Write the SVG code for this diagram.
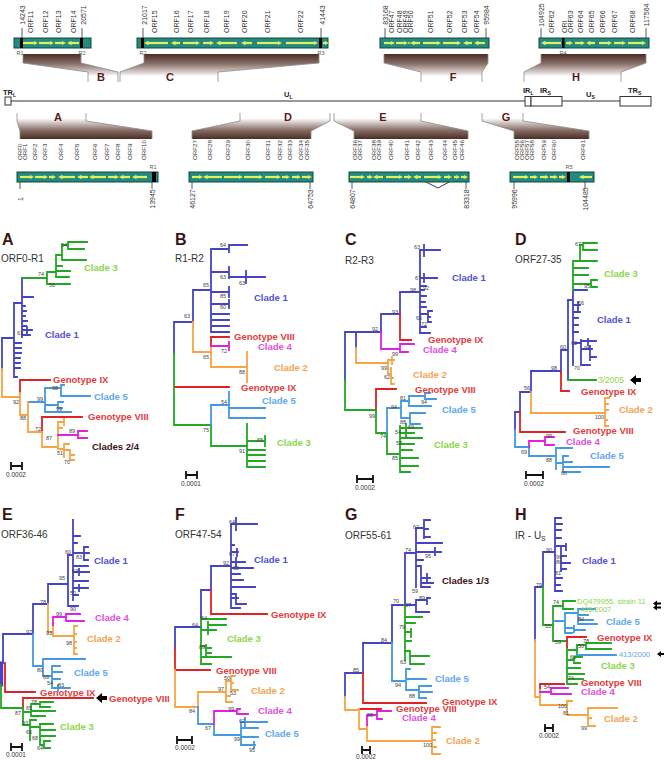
<svg xmlns="http://www.w3.org/2000/svg" width="664" height="760" viewBox="0 0 664 760">
<defs>
<style>
text{font-family:"Liberation Sans",Arial,Helvetica,sans-serif}
.orf{font-size:7px;fill:#333}
.orl{font-size:6.2px;fill:#333}
.num{font-size:7px;fill:#333;text-anchor:middle}
.rl{font-size:5.5px;fill:#555;text-anchor:middle}
.reg{font-size:11px;font-weight:bold;fill:#5c1a1a;text-anchor:middle}
.gl{font-size:7.5px;font-weight:bold;fill:#222}
.gs{font-size:5px}
.pl{font-size:16px;font-weight:bold;fill:#3b1410}
.st{font-size:10px;fill:#333}
.bs{font-size:5.5px;fill:#444}
.cl{font-size:9.5px;font-weight:bold}
.sm{font-size:8.5px}
.xs{font-size:7.5px}
.sc{font-size:6.5px;fill:#333;text-anchor:middle}
.c1{fill:#5252d2}.c2{fill:#f2a452}.c3{fill:#8cd64c}.c4{fill:#e050e0}.c5{fill:#62a8ee}.gi{fill:#e23c3c}.dk{fill:#3b1410}
.tr path{fill:none;stroke-width:1.8;stroke-linecap:square}
.b{stroke:#4444c4}.g{stroke:#22a822}.r{stroke:#e02222}.o{stroke:#f5a545}.lb{stroke:#4499e2}.m{stroke:#e022e0}
.bar{fill:#238a80;stroke:#0c4843;stroke-width:1}
.ya path{fill:none;stroke:#e6ee5c;stroke-width:2.2}
.mk{fill:#000}
.tk{stroke:#333;stroke-width:0.8}
.edge{fill:none;stroke:#8a8a8a;stroke-width:0.8}
.sb{fill:none;stroke:#111;stroke-width:1.3}
.tr path.arw,.arw{fill:#000;stroke:none}
</style>
<marker id="ah" viewBox="0 0 6 6" refX="2" refY="3" markerWidth="4.5" markerHeight="5" markerUnits="userSpaceOnUse" orient="auto">
<path d="M0,0L6,3L0,6z" fill="#e6ee5c"/>
</marker>
<linearGradient id="gu" x1="0" y1="0" x2="0" y2="1">
<stop offset="0" stop-color="#4a2d24"/><stop offset="0.35" stop-color="#8a7068"/><stop offset="0.8" stop-color="#ffffff"/>
</linearGradient>
<linearGradient id="gd" x1="0" y1="0" x2="0" y2="1">
<stop offset="0.2" stop-color="#ffffff"/><stop offset="0.65" stop-color="#8a7068"/><stop offset="1" stop-color="#4a2d24"/>
</linearGradient>
</defs>
<rect width="664" height="760" fill="#fff"/>

<g id="genome-line">
<line x1="11" y1="101" x2="525" y2="101" stroke="#333" stroke-width="1.2"/>
<line x1="562" y1="101" x2="620" y2="101" stroke="#333" stroke-width="1.2"/>
<rect x="5" y="97" width="6" height="8" fill="#fff" stroke="#333" stroke-width="1"/>
<rect x="525" y="96.5" width="6" height="9.5" fill="#fff" stroke="#333" stroke-width="1"/>
<rect x="531" y="96.5" width="31" height="9.5" fill="#fff" stroke="#333" stroke-width="1"/>
<rect x="620" y="96.5" width="31" height="9.5" fill="#fff" stroke="#333" stroke-width="1"/>
<text class="gl" x="3" y="95">TR<tspan class="gs" dy="1.5">L</tspan></text>
<text class="gl" x="284" y="97">U<tspan class="gs" dy="1.5">L</tspan></text>
<text class="gl" x="523" y="93">IR<tspan class="gs" dy="1.5">L</tspan></text>
<text class="gl" x="540" y="93">IR<tspan class="gs" dy="1.5">S</tspan></text>
<text class="gl" x="586" y="97">U<tspan class="gs" dy="1.5">S</tspan></text>
<text class="gl" x="628" y="93">TR<tspan class="gs" dy="1.5">S</tspan></text>
</g>

<g id="connectors">
<polygon points="23,54 81,54 81,63 118,72 118,82 88,82 88,72 23,63" fill="url(#gu)"/>
<polyline class="edge" points="23,54 23,63 88,72 88,82"/><polyline class="edge" points="81,54 81,63 118,72 118,82"/>
<polygon points="144,54 319,54 319,63 218,72 218,82 120,82 120,72 144,63" fill="url(#gu)"/>
<polyline class="edge" points="144,54 144,63 120,72 120,82"/><polyline class="edge" points="319,54 319,63 218,72 218,82"/>
<polygon points="384,54 488,54 488,63 482,72 482,82 421,82 421,72 384,63" fill="url(#gu)"/>
<polyline class="edge" points="384,54 384,63 421,72 421,82"/><polyline class="edge" points="488,54 488,63 482,72 482,82"/>
<polygon points="541,54 646,54 646,63 621,72 621,82 524,82 524,72 541,63" fill="url(#gu)"/>
<polyline class="edge" points="541,54 541,63 524,72 524,82"/><polyline class="edge" points="646,54 646,63 621,72 621,82"/>
<polygon points="17,113 86,113 86,121 152,131 152,139 20,139 20,131 17,121" fill="url(#gd)"/>
<polyline class="edge" points="17,113 17,121 20,131 20,139"/><polyline class="edge" points="86,113 86,121 152,131 152,139"/>
<polygon points="240,113 330,113 330,121 311,131 311,139 192,139 192,131 240,121" fill="url(#gd)"/>
<polyline class="edge" points="240,113 240,121 192,131 192,139"/><polyline class="edge" points="330,113 330,121 311,131 311,139"/>
<polygon points="334,113 421,113 421,121 468,131 468,139 354,139 354,131 334,121" fill="url(#gd)"/>
<polyline class="edge" points="334,113 334,121 354,131 354,139"/><polyline class="edge" points="421,113 421,121 468,131 468,139"/>
<polygon points="482,113 523,113 523,121 589,131 589,139 514,139 514,131 482,121" fill="url(#gd)"/>
<polyline class="edge" points="482,113 482,121 514,131 514,139"/><polyline class="edge" points="523,113 523,121 589,131 589,139"/>
<text class="reg" x="101" y="81">B</text><text class="reg" x="170" y="81">C</text>
<text class="reg" x="453" y="81">F</text><text class="reg" x="576" y="81">H</text>
<text class="reg" x="58" y="121">A</text><text class="reg" x="288" y="121">D</text>
<text class="reg" x="383" y="121">E</text><text class="reg" x="506" y="121">G</text>
<path d="M424,181L438,188L451,181" fill="none" stroke="#222" stroke-width="0.9"/>
</g>

<g id="region-B">
<rect class="bar" x="14" y="38" width="77" height="10"/>
<g class="ya"><path d="M23,43H35" marker-end="url(#ah)"/><path d="M39,43H51" marker-end="url(#ah)"/><path d="M55,43H63" marker-end="url(#ah)"/><path d="M79,43H70" marker-end="url(#ah)"/></g>
<rect class="mk" x="20" y="38" width="3" height="10"/><rect class="mk" x="80" y="38" width="3" height="10"/>
<line class="tk" x1="22" y1="28" x2="22" y2="38"/><line class="tk" x1="82" y1="28" x2="82" y2="38"/>
<text class="num" transform="translate(24.5,15) rotate(-90)">14243</text>
<text class="num" transform="translate(85.5,15) rotate(-90)">20571</text>
<text class="orf" transform="translate(32.7,33) rotate(-90)">ORF11</text>
<text class="orf" transform="translate(47.7,33) rotate(-90)">ORF12</text>
<text class="orf" transform="translate(60.7,33) rotate(-90)">ORF13</text>
<text class="orf" transform="translate(75.7,33) rotate(-90)">ORF14</text>
<text class="rl" x="20" y="55">R1</text><text class="rl" x="82" y="55">R2</text>
</g>

<g id="region-C">
<rect class="bar" x="137" y="38" width="191" height="10"/>
<g class="ya"><path d="M168,43H147" marker-end="url(#ah)"/><path d="M180,43H174" marker-end="url(#ah)"/><path d="M183,43H197" marker-end="url(#ah)"/><path d="M203,43H211" marker-end="url(#ah)"/><path d="M237,43H219" marker-end="url(#ah)"/><path d="M252,43H244" marker-end="url(#ah)"/><path d="M257,43H279" marker-end="url(#ah)"/><path d="M286,43H315" marker-end="url(#ah)"/><path d="M323,43H326" marker-end="url(#ah)"/></g>
<rect class="mk" x="141" y="38" width="3" height="10"/><rect class="mk" x="319" y="38" width="3" height="10"/>
<line class="tk" x1="143" y1="28" x2="143" y2="38"/><line class="tk" x1="321" y1="28" x2="321" y2="38"/>
<text class="num" transform="translate(146.5,15) rotate(-90)">21017</text>
<text class="num" transform="translate(324.5,15) rotate(-90)">41443</text>
<text class="orf" transform="translate(156.7,33) rotate(-90)">ORF15</text>
<text class="orf" transform="translate(178.7,33) rotate(-90)">ORF16</text>
<text class="orf" transform="translate(192.7,33) rotate(-90)">ORF17</text>
<text class="orf" transform="translate(208.7,33) rotate(-90)">ORF18</text>
<text class="orf" transform="translate(228.7,33) rotate(-90)">ORF19</text>
<text class="orf" transform="translate(246.7,33) rotate(-90)">ORF20</text>
<text class="orf" transform="translate(269.7,33) rotate(-90)">ORF21</text>
<text class="orf" transform="translate(302.7,33) rotate(-90)">ORF22</text>
<text class="rl" x="143" y="55">R2</text><text class="rl" x="321" y="55">R3</text>
</g>

<g id="region-F">
<rect class="bar" x="380" y="38" width="109" height="10"/>
<g class="ya"><path d="M384,43H392" marker-end="url(#ah)"/><path d="M396,43H405" marker-end="url(#ah)"/><path d="M420,43H413" marker-end="url(#ah)"/><path d="M423,43H438" marker-end="url(#ah)"/><path d="M443,43H458" marker-end="url(#ah)"/><path d="M472,43H466" marker-end="url(#ah)"/><path d="M485,43H477" marker-end="url(#ah)"/></g>
<circle cx="409" cy="43" r="1" fill="#e6ee5c"/>
<line class="tk" x1="385" y1="28" x2="385" y2="38"/><line class="tk" x1="486" y1="28" x2="486" y2="38"/>
<text class="num" transform="translate(387.5,15) rotate(-90)">83168</text>
<text class="num" transform="translate(488.5,15) rotate(-90)">95984</text>
<text class="orf" transform="translate(393.7,33) rotate(-90)">ORF47</text>
<text class="orf" transform="translate(401.7,33) rotate(-90)">ORF48</text>
<text class="orf" transform="translate(407.7,33) rotate(-90)">ORF49</text>
<text class="orf" transform="translate(412.7,33) rotate(-90)">ORF50</text>
<text class="orf" transform="translate(432.7,33) rotate(-90)">ORF51</text>
<text class="orf" transform="translate(451.7,33) rotate(-90)">ORF52</text>
<text class="orf" transform="translate(466.7,33) rotate(-90)">ORF53</text>
<text class="orf" transform="translate(478.7,33) rotate(-90)">ORF54</text>
</g>

<g id="region-H">
<rect class="bar" x="539" y="38" width="110" height="10"/>
<g class="ya"><path d="M561,43H544" marker-end="url(#ah)"/><path d="M566,43H570" marker-end="url(#ah)"/><path d="M575,43H582" marker-end="url(#ah)"/><path d="M595,43H589" marker-end="url(#ah)"/><path d="M599,43H609" marker-end="url(#ah)"/><path d="M614,43H623" marker-end="url(#ah)"/><path d="M628,43H643" marker-end="url(#ah)"/></g>
<rect class="mk" x="562" y="38" width="2.5" height="10"/>
<line class="tk" x1="541" y1="28" x2="541" y2="38"/><line class="tk" x1="646" y1="28" x2="646" y2="38"/>
<text class="num" transform="translate(543.5,15) rotate(-90)">104925</text>
<text class="num" transform="translate(648.5,15) rotate(-90)">117564</text>
<text class="orf" transform="translate(553.7,33) rotate(-90)">ORF62</text>
<text class="orf" transform="translate(567.2,33) rotate(-90)">ORI</text>
<text class="orf" transform="translate(572.7,33) rotate(-90)">ORF63</text>
<text class="orf" transform="translate(582.7,33) rotate(-90)">ORF64</text>
<text class="orf" transform="translate(593.7,33) rotate(-90)">ORF65</text>
<text class="orf" transform="translate(604.7,33) rotate(-90)">ORF66</text>
<text class="orf" transform="translate(616.7,33) rotate(-90)">ORF67</text>
<text class="orf" transform="translate(634.7,33) rotate(-90)">ORF68</text>
<text class="rl" x="563" y="55">R4</text>
</g>

<g id="region-A">
<rect class="bar" x="17" y="172" width="141" height="10"/>
<g class="ya"><path d="M20,177H31" marker-end="url(#ah)"/><path d="M35,177H45" marker-end="url(#ah)"/><path d="M49,177H53" marker-end="url(#ah)"/><path d="M75,177H61" marker-end="url(#ah)"/><path d="M88,177H80" marker-end="url(#ah)"/><path d="M106,177H92" marker-end="url(#ah)"/><path d="M108,177H116" marker-end="url(#ah)"/><path d="M130,177H122" marker-end="url(#ah)"/><path d="M147,177H135" marker-end="url(#ah)"/></g>
<rect class="mk" x="152" y="172" width="4" height="10"/>
<line class="tk" x1="20" y1="182" x2="20" y2="189"/><line class="tk" x1="152" y1="182" x2="152" y2="189"/>
<text class="num" transform="translate(22.5,199) rotate(-90)">1</text>
<text class="num" transform="translate(154.5,199) rotate(-90)">13945</text>
<text class="orl" transform="translate(22.4,160) rotate(-90)">ORF0</text>
<text class="orl" transform="translate(27.4,160) rotate(-90)">ORF1</text>
<text class="orl" transform="translate(37.4,160) rotate(-90)">ORF2</text>
<text class="orl" transform="translate(47.4,160) rotate(-90)">ORF3</text>
<text class="orl" transform="translate(63.4,160) rotate(-90)">ORF4</text>
<text class="orl" transform="translate(79.4,160) rotate(-90)">ORF5</text>
<text class="orl" transform="translate(97.4,160) rotate(-90)">ORF6</text>
<text class="orl" transform="translate(109.4,160) rotate(-90)">ORF7</text>
<text class="orl" transform="translate(120.4,160) rotate(-90)">ORF8</text>
<text class="orl" transform="translate(132.4,160) rotate(-90)">ORF9</text>
<text class="orl" transform="translate(146.4,160) rotate(-90)">ORF10</text>
<text class="rl" x="153" y="169">R1</text>
</g>

<g id="region-D">
<rect class="bar" x="189" y="172" width="124" height="10"/>
<g class="ya"><path d="M192,177H200" marker-end="url(#ah)"/><path d="M222,177H206" marker-end="url(#ah)"/><path d="M224,177H240" marker-end="url(#ah)"/><path d="M244,177H260" marker-end="url(#ah)"/><path d="M265,177H278" marker-end="url(#ah)"/><path d="M282,177H287" marker-end="url(#ah)"/><path d="M292,177H298" marker-end="url(#ah)"/><path d="M302,177H309" marker-end="url(#ah)"/></g>
<line class="tk" x1="192" y1="182" x2="192" y2="189"/><line class="tk" x1="310" y1="182" x2="310" y2="189"/>
<text class="num" transform="translate(194.5,199) rotate(-90)">46127</text>
<text class="num" transform="translate(312.5,199) rotate(-90)">64753</text>
<text class="orl" transform="translate(197.4,160) rotate(-90)">ORF27</text>
<text class="orl" transform="translate(212.4,160) rotate(-90)">ORF28</text>
<text class="orl" transform="translate(230.4,160) rotate(-90)">ORF29</text>
<text class="orl" transform="translate(250.4,160) rotate(-90)">ORF30</text>
<text class="orl" transform="translate(270.4,160) rotate(-90)">ORF31</text>
<text class="orl" transform="translate(282.4,160) rotate(-90)">ORF32</text>
<text class="orl" transform="translate(292.4,160) rotate(-90)">ORF33</text>
<text class="orl" transform="translate(303.4,160) rotate(-90)">ORF34</text>
<text class="orl" transform="translate(308.9,160) rotate(-90)">ORF35</text>
</g>

<g id="region-E">
<rect class="bar" x="349" y="172" width="120" height="10"/>
<g class="ya"><path d="M350,177H362" marker-end="url(#ah)"/><path d="M367,177H370" marker-end="url(#ah)"/><path d="M383,177H376" marker-end="url(#ah)"/><path d="M386,177H400" marker-end="url(#ah)"/><path d="M404,177H409" marker-end="url(#ah)"/><path d="M421,177H416" marker-end="url(#ah)"/><path d="M424,177H439" marker-end="url(#ah)"/><path d="M444,177H449" marker-end="url(#ah)"/><path d="M454,177H457" marker-end="url(#ah)"/><path d="M461,177H465" marker-end="url(#ah)"/></g>
<line class="tk" x1="352" y1="182" x2="352" y2="189"/><line class="tk" x1="466" y1="182" x2="466" y2="189"/>
<text class="num" transform="translate(354.5,199) rotate(-90)">64807</text>
<text class="num" transform="translate(468.5,199) rotate(-90)">83318</text>
<text class="orl" transform="translate(357.4,160) rotate(-90)">ORF36</text>
<text class="orl" transform="translate(362.4,160) rotate(-90)">ORF37</text>
<text class="orl" transform="translate(376.4,160) rotate(-90)">ORF38</text>
<text class="orl" transform="translate(381.4,160) rotate(-90)">ORF39</text>
<text class="orl" transform="translate(393.4,160) rotate(-90)">ORF40</text>
<text class="orl" transform="translate(409.4,160) rotate(-90)">ORF41</text>
<text class="orl" transform="translate(420.4,160) rotate(-90)">ORF42</text>
<text class="orl" transform="translate(433.4,160) rotate(-90)">ORF43</text>
<text class="orl" transform="translate(447.4,160) rotate(-90)">ORF44</text>
<text class="orl" transform="translate(457.4,160) rotate(-90)">ORF45</text>
<text class="orl" transform="translate(464.4,160) rotate(-90)">ORF46</text>
</g>

<g id="region-G">
<rect class="bar" x="510" y="172" width="84" height="10"/>
<g class="ya"><path d="M513,177H526" marker-end="url(#ah)"/><path d="M530,177H535" marker-end="url(#ah)"/><path d="M540,177H546" marker-end="url(#ah)"/><path d="M550,177H555" marker-end="url(#ah)"/><path d="M559,177H563" marker-end="url(#ah)"/><path d="M592,177H582" marker-end="url(#ah)"/></g>
<rect class="mk" x="567" y="172" width="3" height="10"/>
<line class="tk" x1="514" y1="182" x2="514" y2="189"/><line class="tk" x1="585" y1="182" x2="585" y2="189"/>
<text class="num" transform="translate(516.5,199) rotate(-90)">95996</text>
<text class="num" transform="translate(587.5,199) rotate(-90)">104485</text>
<text class="orl" transform="translate(519.4,160) rotate(-90)">ORF55</text>
<text class="orl" transform="translate(524.4,160) rotate(-90)">ORF56</text>
<text class="orl" transform="translate(529.4,160) rotate(-90)">ORF57</text>
<text class="orl" transform="translate(534.4,160) rotate(-90)">ORF58</text>
<text class="orl" transform="translate(546.4,160) rotate(-90)">ORF59</text>
<text class="orl" transform="translate(556.4,160) rotate(-90)">ORF60</text>
<text class="orl" transform="translate(585.4,160) rotate(-90)">ORF61</text>
<text class="rl" x="569" y="169">R5</text>
</g>

<g id="tree-A" class="tr">
<text class="pl" x="2" y="245">A</text><text class="st" x="1" y="262">ORF0-R1</text>
<path class="b" d="M2,338V369M2,338H14M14,303V377M14,303H22M22,278V337M22,297H33M22,306H25M22,311H26M22,316H25M22,321H27M22,326H26M22,330H32M27,327V333M22,335H30M14,343H21M14,348H21M14,353H21M14,358H20M14,363H20M14,368H20M14,377H17"/>
<path class="lb" d="M28,402H45M45,388V412M45,388H61M61,385V396M61,385H64M61,396H90M45,405H58M58,402V408M58,402H63M58,408H62M45,412H71"/>
<path class="r" d="M20,380V393M20,380H50M42,417V432M42,417H82"/>
<path class="o" d="M2,369V397M2,397H20M20,393V415M20,415H28M28,402V432M28,432H42M42,432V447M42,447H58M58,422V449M58,422H64M64,419V425M58,428H62M58,449H64M64,444V457M64,444H69M64,450H70M70,450V460M70,455H74M70,460H74"/>
<path class="m" d="M58,435H78M78,431V438M78,431H87M78,438H87"/>
<path class="g" d="M22,278H47M47,272V284M47,272H56M56,255V277M56,255H62M62,245V260M62,245H68M68,242V249M68,242H87M68,249H84M62,260H86M56,266H62M56,271H70M56,277H69M47,284H70"/>
<g class="bs"><text x="61" y="247">54</text><text x="38" y="276">74</text><text x="49" y="287">56</text><text x="17" y="335">63</text><text x="52" y="389.5">98</text><text x="37" y="401">99</text><text x="56" y="411">99</text><text x="13" y="404">92</text><text x="20" y="420">88</text><text x="35" y="431">72</text><text x="46" y="440">87</text><text x="69" y="433">89</text><text x="57" y="455">51</text><text x="64" y="464">70</text></g>
<text class="cl c3" x="84" y="271">Clade 3</text>
<text class="cl c1" x="45" y="338">Clade 1</text>
<text class="cl gi" x="53" y="383">Genotype IX</text>
<text class="cl c5" x="94" y="400">Clade 5</text>
<text class="cl gi" x="88" y="420">Genotype VIII</text>
<text class="cl dk" x="92" y="450">Clades 2/4</text>
<path class="sb" d="M11,466H22M11,463V469M22,463V469"/>
<text class="sc" x="16" y="477">0.0002</text>
</g>

<g id="tree-B" class="tr">
<text class="pl" x="175" y="245">B</text><text class="st" x="175" y="262">R1-R2</text>
<path class="b" d="M174,322V353M174,322H193M193,290V322M193,290H211M211,249V332M211,249H229M229,245V252M229,245H247M211,272H229M229,267V278M229,277H246M246,271V283M246,277H265M211,292H229M229,287V297M211,304H229M229,300V308M211,314H229M211,320H229M211,326H229M211,332H229"/>
<path class="o" d="M193,322V352M193,352H211M211,346V367M211,367H247M247,352V382"/>
<path class="r" d="M211,337V346M211,337H229M174,387H229"/>
<path class="m" d="M211,346H229M229,342V350"/>
<path class="g" d="M174,353V425M174,425H211M211,425V446M211,446H247M247,424V467M247,441H265M265,436V446M247,450H265M247,455H265M247,461H265M247,467H265"/>
<path class="lb" d="M211,405V425M211,405H229M229,392V418M229,408H265M229,418H265"/>
<g class="bs"><text x="184" y="318">63</text><text x="203" y="287">65</text><text x="220" y="247">64</text><text x="220" y="279">63</text><text x="239" y="285">63</text><text x="220" y="298">85</text><text x="220" y="309">60</text><text x="221" y="353">72</text><text x="203" y="359">65</text><text x="239" y="374">88</text><text x="221" y="404">54</text><text x="203" y="432">75</text><text x="239" y="453">91</text><text x="257" y="442">65</text></g>
<text class="cl c1" x="254" y="301">Clade 1</text>
<text class="cl gi" x="234" y="340">Genotype VIII</text>
<text class="cl c4" x="258" y="350">Clade 4</text>
<text class="cl c2" x="274" y="371">Clade 2</text>
<text class="cl gi" x="241" y="391">Genotype IX</text>
<text class="cl c5" x="262" y="404">Clade 5</text>
<text class="cl c3" x="277" y="446">Clade 3</text>
<path class="sb" d="M186,475H197M186,472V478M197,472V478"/>
<text class="sc" x="191" y="486">0.0001</text>
</g>

<g id="tree-C" class="tr">
<text class="pl" x="345" y="245">C</text><text class="st" x="345" y="264">R2-R3</text>
<path class="b" d="M345,332V380M345,332H381M356,332V348M381,314V332M381,314H400M400,292V314M400,292H420M420,250V333M420,250H440M424,245V256M420,278H437M424,274V282M420,286H426M420,290H424M420,296H426M420,302H425M420,307H426M420,314H428M428,311V322M428,311H432M428,317H430M428,322H431M420,327H426M420,333H430"/>
<path class="o" d="M356,348V363M356,363H388M388,360V374M388,360H394M392,357V364M388,374H391M391,368V384M391,384H394M391,378H393"/>
<path class="m" d="M381,332V349M381,349H400M400,344V352M400,344H414M400,352H408"/>
<path class="r" d="M400,314V340M400,340H411M376,389V410M376,389H396"/>
<path class="g" d="M345,380V410M345,410H376M376,410V433M376,433H387M387,433V454M387,454H400M400,426V472M400,428H422M406,424V436M400,433H414M400,438H422M400,444H414M400,450H412M400,458H418M400,466H418M400,472H410"/>
<path class="lb" d="M387,408V433M387,408H401M401,401V418M401,401H409M409,396V406M409,396H425M425,393V399M425,393H430M425,399H436M409,406H431M401,418H410M410,413V424M410,413H425M410,424H420"/>
<g class="bs"><text x="414" y="249">63</text><text x="415" y="280">67</text><text x="410" y="292">98</text><text x="423" y="290">92</text><text x="416" y="320">65</text><text x="421" y="326">72</text><text x="392" y="314">93</text><text x="372" y="331">92</text><text x="392" y="356">99</text><text x="381" y="370">99</text><text x="384" y="379">62</text><text x="369" y="418">99</text><text x="400" y="400">81</text><text x="421" y="404">94</text><text x="391" y="409">94</text><text x="400" y="424">88</text><text x="380" y="438">74</text><text x="408" y="429">69</text><text x="395" y="434">54</text><text x="396" y="445">58</text><text x="392" y="460">85</text></g>
<text class="cl c1" x="452" y="281">Clade 1</text>
<text class="cl gi" x="428" y="343">Genotype IX</text>
<text class="cl c4" x="423" y="353">Clade 4</text>
<text class="cl c2" x="413" y="378">Clade 2</text>
<text class="cl gi" x="415" y="393">Genotype VIII</text>
<text class="cl c5" x="442" y="413">Clade 5</text>
<text class="cl c3" x="434" y="448">Clade 3</text>
<path class="sb" d="M357,479H373M357,476V482M373,476V482"/>
<text class="sc" x="365" y="490">0.0002</text>
</g>

<g id="tree-D" class="tr">
<text class="pl" x="515" y="245">D</text><text class="st" x="515" y="263">ORF27-35</text>
<path class="b" d="M515,412V430M515,412H520M520,392V412M520,392H531M531,371V392M531,371H561M561,350V372M561,350H568M568,300V380M568,300H573M573,290V365M573,290H587M573,305H580M578,302V310M573,312H580M573,318H578M573,325H578M573,332H578M573,343H581M581,340V365M581,341H588M588,339V345M588,341H596M581,349H590M590,346V360M590,349H592M590,357H596M581,365H590"/>
<path class="r" d="M520,412V432M520,432H565M561,372V391M561,391H569"/>
<path class="o" d="M531,392V413M531,413H605M605,398V426M605,398H609M605,404H608M605,410H608M605,420H607M605,426H608"/>
<path class="g" d="M568,380H596M573,261V290M573,261H580M580,245V261M580,245H583M583,243V250M583,243H597M583,250H597M580,261H597M573,268H588M573,275H588M573,284H591M591,280V287M591,280H597M591,287H597"/>
<path class="lb" d="M515,430V447M515,447H529M529,447V456M529,456H556M556,448V469M556,448H572M556,463H563M563,456V472M563,456H568M563,462H572M563,467H609M563,472H580"/>
<path class="m" d="M529,441V447M529,441H545M545,437V445M545,437H554M545,445H554"/>
<g class="bs"><text x="575" y="246">67</text><text x="584" y="288">95</text><text x="578" y="305">66</text><text x="571" y="345">62</text><text x="584" y="350">98</text><text x="574" y="370">70</text><text x="560" y="349">60</text><text x="551" y="370">98</text><text x="524" y="390">56</text><text x="595" y="419">100</text><text x="546" y="438">99</text><text x="521" y="454">69</text><text x="546" y="462">88</text><text x="561" y="475">66</text></g>
<text class="cl c3" x="604" y="277">Clade 3</text>
<text class="cl c1" x="597" y="323">Clade 1</text>
<text class="c3 sm" x="598" y="383">3/2005</text>
<path class="arw" d="M630,380L636,375V378H641V382H636V385Z"/>
<text class="cl gi" x="581" y="395">Genotype IX</text>
<text class="cl c2" x="619" y="413">Clade 2</text>
<text class="cl gi" x="573" y="434">Genotype VIII</text>
<text class="cl c4" x="566" y="445">Clade 4</text>
<text class="cl c5" x="590" y="459">Clade 5</text>
<path class="sb" d="M526,475H543M526,472V478M543,472V478"/>
<text class="sc" x="534" y="486">0.0002</text>
</g>

<g id="tree-E" class="tr">
<text class="pl" x="2" y="520">E</text><text class="st" x="1" y="538">ORF36-46</text>
<path class="b" d="M3,634V663M3,634H33M33,604V634M33,604H48M48,584V604M48,584H68M68,555V606M68,555H73M73,520V600M73,536H80M73,543H77M73,553H84M84,547V560M84,547H88M84,553H89M84,560H88M73,566H88M73,572H89M79,569V575M73,581H88M73,588H88M79,585V591M73,595H78M68,606H78"/>
<path class="b" style="stroke-width:3.2" d="M1.6,663V685"/>
<path class="r" d="M5,663V692M5,692H35M23,698V708M23,698H93"/>
<path class="g" d="M1,685V708M1,708H23M23,708V725M23,712H31M31,704V716M31,704H40M40,702V707M40,702H53M40,707H50M31,711H55M31,716H45M23,725H30M30,720V740M30,720H36M30,727H40M40,724V745M40,724H53M40,730H55M40,736H55M40,745H44M44,741V748M44,741H50M44,748H50"/>
<path class="o" d="M48,604V632M48,632H53M53,625V636M53,636H74M74,626V654M74,626H77M74,634H76M74,642H76M74,648H76M74,654H77"/>
<path class="m" d="M53,617V625M53,617H66M66,614V621M66,614H80M66,621H84"/>
<path class="lb" d="M33,634V666M33,666H43M43,659V676M43,659H85M43,676H52M52,666V688M52,666H60M52,672H62M52,679H60M52,688H70M58,685V691"/>
<g class="bs"><text x="65" y="554">60</text><text x="76" y="559">83</text><text x="72" y="573">63</text><text x="59" y="580">95</text><text x="70" y="595">50</text><text x="70" y="611">90</text><text x="40" y="604">78</text><text x="26" y="634">97</text><text x="56" y="616">99</text><text x="46" y="635">93</text><text x="66" y="645">98</text><text x="37" y="672">80</text><text x="43" y="679">69</text><text x="47" y="685">54</text><text x="58" y="687">83</text><text x="31" y="704">78</text><text x="26" y="710">65</text><text x="15" y="715">87</text><text x="22" y="725">93</text><text x="26" y="734">66</text><text x="32" y="740">68</text><text x="37" y="750">64</text></g>
<text class="cl c1" x="94" y="564">Clade 1</text>
<text class="cl c4" x="95" y="621">Clade 4</text>
<text class="cl c2" x="87" y="642">Clade 2</text>
<text class="cl c5" x="74" y="676">Clade 5</text>
<text class="cl gi" x="40" y="695.5">Genotype IX</text>
<path class="arw" d="M96,698L102,693V696H107V700H102V703Z"/>
<text class="cl gi" x="109" y="702">Genotype VIII</text>
<text class="cl c3" x="60" y="730">Clade 3</text>
<path class="sb" d="M11,747H22M11,744V750M22,744V750"/>
<text class="sc" x="16" y="757">0.0001</text>
</g>

<g id="tree-F" class="tr">
<text class="pl" x="175" y="520">F</text><text class="st" x="175" y="538">ORF47-54</text>
<path class="b" d="M175,627V648M175,627H201M201,590V619M201,590H211M211,566V590M211,566H231M231,524V608M231,524H257M236,518V530M231,545H234M231,552H238M237,549V556M231,562H245M236,558V566M231,568H253M231,574H240M231,580H243M231,587H255M231,594H236M231,598H238M236,596V604M236,604H246M231,608H240"/>
<path class="r" d="M175,648V670M175,670H210M211,590V614M211,614H267"/>
<path class="g" d="M201,619V664M201,619H226M201,630H216M208,622V634M208,625H226M201,646H206M206,645V655M206,648H211M206,653H211M201,657H231M201,664H211"/>
<path class="o" d="M175,670V707M175,707H198M198,692V707M198,692H226M226,681V702M226,681H231M231,676V690M231,676H235M231,683H233M231,690H238M226,696H230M226,702H232"/>
<path class="lb" d="M198,707V724M198,724H214M214,724V735M214,735H241M241,722V745M241,722H267M245,718V727M241,728H258M241,737H258M241,745H255M254,742V748"/>
<path class="m" d="M214,711V724M214,711H237M237,709V714M237,709H240M237,714H248"/>
<g class="bs"><text x="229" y="524">64</text><text x="229" y="556">67</text><text x="223" y="565">92</text><text x="233" y="570">63</text><text x="192" y="627">64</text><text x="201" y="620">64</text><text x="199" y="649">89</text><text x="218" y="691">97</text><text x="224" y="680">50</text><text x="230" y="695">53</text><text x="189" y="713">84</text><text x="205" y="730">67</text><text x="228" y="711">99</text><text x="239" y="723">62</text><text x="234" y="741">99</text><text x="249" y="752">95</text></g>
<text class="cl c1" x="254" y="563">Clade 1</text>
<text class="cl gi" x="271" y="618">Genotype IX</text>
<text class="cl c3" x="227" y="642">Clade 3</text>
<text class="cl gi" x="216" y="674">Genotype VIII</text>
<text class="cl c2" x="251" y="694">Clade 2</text>
<text class="cl c4" x="258" y="714">Clade 4</text>
<text class="cl c5" x="265" y="737">Clade 5</text>
<path class="sb" d="M177,740H192M177,737V743M192,737V743"/>
<text class="sc" x="185" y="750">0.0002</text>
</g>

<g id="tree-G" class="tr">
<text class="pl" x="345" y="520">G</text><text class="st" x="345" y="539">ORF55-61</text>
<path class="b" d="M345,673V697M345,673H363M363,643V673M363,643H392M392,605V643M392,605H405M405,553V605M405,553H416M416,528V587M416,528H424M424,520V538M424,520H430M424,529H428M424,537H430M416,543H442M416,552H441M435,548V555M416,560H423M416,566H421M421,566V587M421,578H430M427,574V582M421,583H433M421,587H430M405,605H416M416,600V612M416,600H427M427,598V604M427,598H430M416,612H429"/>
<path class="r" d="M363,673V703M363,703H426M359,709H381"/>
<path class="lb" d="M392,643V681M392,681H406M406,669V690M406,669H410M406,679H426M406,690H419M419,686V698M419,686H431M419,692H432M419,698H426"/>
<path class="g" d="M405,605V660M405,617H422M405,623H415M405,632H411M411,629V637M405,641H411M405,651H410M410,651V664M410,656H429M410,664H424"/>
<path class="o" d="M345,697V710M345,710H359M359,709V729M359,729H367M367,725V741M367,741H432M432,727V754M432,727H440M432,733H436M432,740H435M432,747H436M432,754H440"/>
<path class="m" d="M367,715V725M367,715H377M377,711V719M377,711H391M377,719H382"/>
<g class="bs"><text x="413" y="529">62</text><text x="405" y="552">74</text><text x="425" y="558">95</text><text x="412" y="593">59</text><text x="393" y="603">70</text><text x="405" y="607">87</text><text x="419" y="600">89</text><text x="399" y="629">79</text><text x="400" y="664">63</text><text x="381" y="642">84</text><text x="395" y="687">94</text><text x="409" y="698">88</text><text x="353" y="672">85</text><text x="367" y="717">88</text><text x="423" y="747">100</text></g>
<text class="cl dk" x="442" y="584">Clades 1/3</text>
<text class="cl c5" x="435" y="682">Clade 5</text>
<text class="cl gi" x="442" y="705">Genotype IX</text>
<text class="cl gi" x="396" y="712">Genotype VIII</text>
<text class="cl c4" x="402" y="721">Clade 4</text>
<text class="cl c2" x="446" y="744">Clade 2</text>
<path class="sb" d="M362,750H370M362,747V753M370,747V753"/>
<text class="sc" x="366" y="759">0.0002</text>
</g>

<g id="tree-H" class="tr">
<text class="pl" x="515" y="520">H</text><text class="st" x="515" y="539">IR - U<tspan font-size="7" dy="2">S</tspan></text>
<path class="b" d="M535,587V640M535,587H543M543,552V587M543,552H555M555,518V591M555,518H561M555,524H562M555,530H561M555,538H561M555,546H561M561,546V571M561,546H566M566,544V550M561,556H566M561,563H570M561,569H566M555,578H562M555,585H560M555,591H562"/>
<path class="g" d="M543,587V625M543,625H553M553,606V641M553,606H563M563,601V609M563,601H575M563,609H573M553,641H567M567,647V684M567,650H577M577,645V655M577,645H586M586,643V649M586,643H611M586,649H611M567,660H574M574,657V663M574,657H582M574,663H580M567,668H580M567,674H584M567,679H583M567,684H577"/>
<path class="lb" d="M553,621H565M565,613V633M565,613H578M578,609V624M578,609H595M578,615H588M578,620H593M578,624H597M565,628H574M574,626V632M574,630H585M565,633H572M577,655H616"/>
<path class="r" d="M567,637V647M567,637H586M540,684V690M540,684H564"/>
<path class="o" d="M535,640V697M535,697H540M540,690V705M540,705H567M567,701V715M567,701H572M567,715H588M588,708V726M588,708H617M588,726H595M588,718H591"/>
<path class="m" d="M540,692H551M551,688V694M551,688H568M551,694H571"/>
<g class="bs"><text x="546" y="552">90</text><text x="556" y="559">99</text><text x="556" y="564">80</text><text x="555" y="575">81</text><text x="536" y="587">79</text><text x="553" y="604">74</text><text x="578" y="621">84</text><text x="545" y="628">55</text><text x="555" y="644">59</text><text x="583" y="643">78</text><text x="578" y="648">50</text><text x="570" y="659">62</text><text x="568" y="680">74</text><text x="544" y="689">54</text><text x="558" y="708">100</text><text x="563" y="715">81</text><text x="581" y="730">99</text></g>
<text class="cl c1" x="582" y="564">Clade 1</text>
<text class="c3 xs" x="577" y="603.5">DQ479955, strain 11</text>
<text class="c3 xs" x="580" y="612">405/2007</text>
<path class="arw" d="M653,603.5L657,600.5V602.5H661V604.5H657V606.5Z"/>
<path class="arw" d="M653,607.5L657,604.5V606.5H661V608.5H657V610.5Z"/>
<text class="cl c5" x="606" y="625">Clade 5</text>
<text class="cl gi" x="597" y="641">Genotype IX</text>
<text class="c5 xs" x="619" y="657">413/2000</text>
<path class="arw" d="M657,654L661,651V653H664V655H661V657Z"/>
<text class="cl c3" x="601" y="669">Clade 3</text>
<text class="cl gi" x="581" y="686">Genotype VIII</text>
<text class="cl c4" x="581" y="695">Clade 4</text>
<text class="cl c2" x="604" y="722">Clade 2</text>
<path class="sb" d="M545,728H553M545,725V731M553,725V731"/>
<text class="sc" x="549" y="738">0.0002</text>
</g>
</svg>
